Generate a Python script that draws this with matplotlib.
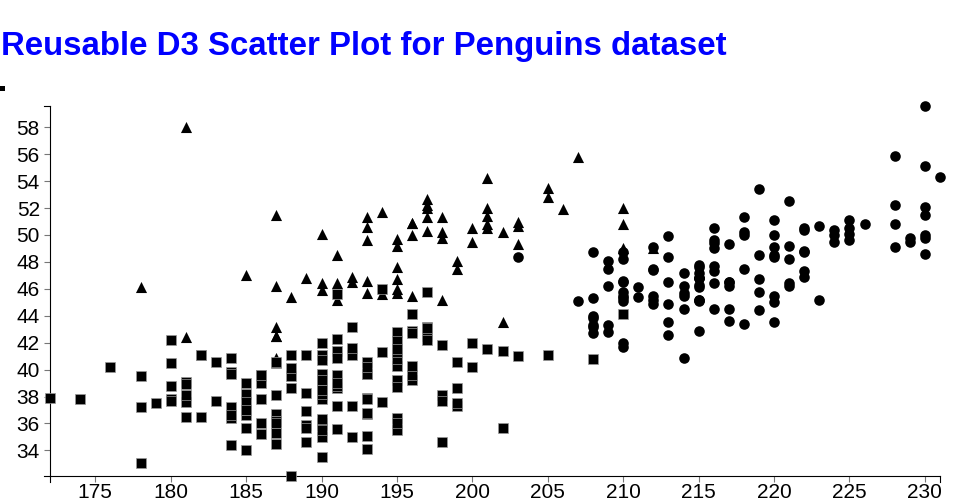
import matplotlib
matplotlib.use("Agg")
import matplotlib.pyplot as plt
from matplotlib.lines import Line2D
from matplotlib.patches import Rectangle

# ---------------- data (flipper length mm, bill length mm) ----------------
adelie_flipper = [181, 186, 195, 193, 190, 181, 195, 193, 190, 186,
                  180, 182, 191, 198, 185, 195, 197, 184, 194, 174,
                  180, 189, 185, 180, 187, 183, 187, 172, 180, 178,
                  178, 188, 184, 195, 196, 190, 180, 181, 184, 182,
                  195, 186, 196, 185, 190, 182, 179, 190, 191, 186,
                  188, 190, 200, 187, 191, 186, 193, 181, 194, 185,
                  195, 185, 192, 184, 192, 195, 188, 190, 198, 190,
                  190, 196, 197, 190, 195, 191, 184, 187, 195, 189,
                  196, 187, 193, 191, 194, 190, 189, 189, 190, 202,
                  205, 185, 186, 187, 208, 190, 196, 178, 192, 192,
                  203, 183, 190, 193, 184, 199, 190, 181, 197, 198,
                  191, 193, 197, 191, 196, 188, 199, 189, 189, 187,
                  198, 176, 202, 186, 199, 191, 195, 191, 210, 190,
                  197, 193, 199, 187, 190, 191, 200, 185, 193, 193,
                  187, 188, 190, 192, 185, 190, 184, 195, 193, 187, 201]
adelie_bill = [39.1, 39.5, 40.3, 36.7, 39.3, 38.9, 39.2, 34.1, 42.0, 37.8,
               37.8, 41.1, 38.6, 34.6, 36.6, 38.7, 42.5, 34.4, 46.0, 37.8,
               37.7, 35.9, 38.2, 38.8, 35.3, 40.6, 40.5, 37.9, 40.5, 39.5,
               37.2, 39.5, 40.9, 36.4, 39.2, 38.8, 42.2, 37.6, 39.8, 36.5,
               40.8, 36.0, 44.1, 37.0, 39.6, 41.1, 37.5, 36.0, 42.3, 39.6,
               40.1, 35.0, 42.0, 34.5, 41.4, 39.0, 40.6, 36.5, 37.6, 35.7,
               41.3, 37.6, 41.1, 36.4, 41.6, 35.5, 41.1, 35.9, 41.8, 33.5,
               39.7, 39.6, 45.8, 35.5, 42.8, 40.9, 37.2, 36.2, 42.1, 34.6,
               42.9, 36.7, 35.1, 37.3, 41.3, 36.3, 36.9, 38.3, 38.9, 35.7,
               41.1, 34.0, 39.6, 36.2, 40.8, 38.1, 40.3, 33.1, 43.2, 35.0,
               41.0, 37.7, 37.8, 37.9, 39.7, 38.6, 38.2, 38.1, 43.2, 38.1,
               45.6, 39.7, 42.2, 39.6, 42.7, 38.6, 37.3, 35.7, 41.1, 36.2,
               37.7, 40.2, 41.4, 35.2, 40.6, 38.8, 41.5, 39.0, 44.1, 38.5,
               43.1, 36.8, 37.5, 38.1, 41.1, 35.6, 40.2, 37.0, 39.7, 40.2,
               40.6, 32.1, 40.7, 37.3, 39.0, 39.2, 36.6, 36.0, 37.8, 36.0, 41.5]

chinstrap_flipper = [192, 196, 193, 188, 197, 198, 178, 197, 195, 198,
                     193, 194, 185, 201, 190, 201, 197, 181, 190, 195,
                     181, 191, 187, 193, 195, 197, 200, 200, 191, 205,
                     187, 201, 187, 203, 195, 199, 195, 210, 192, 205,
                     210, 187, 196, 196, 196, 201, 190, 212, 187, 198,
                     199, 201, 193, 203, 187, 197, 191, 203, 202, 194,
                     206, 189, 195, 207, 202, 193, 210, 198]
chinstrap_bill = [46.5, 50.0, 51.3, 45.4, 52.7, 45.2, 46.1, 51.3, 46.0, 51.3,
                  46.6, 51.7, 47.0, 52.0, 45.9, 50.5, 50.3, 58.0, 46.4, 49.2,
                  42.4, 48.5, 43.2, 50.6, 46.7, 52.0, 50.5, 49.5, 46.4, 52.8,
                  40.9, 54.2, 42.5, 51.0, 49.7, 47.5, 47.6, 52.0, 46.9, 53.5,
                  49.0, 46.2, 50.9, 45.5, 50.9, 50.8, 50.1, 49.0, 51.5, 49.8,
                  48.1, 51.4, 45.7, 50.7, 42.5, 52.2, 45.2, 49.3, 50.2, 45.6,
                  51.9, 46.8, 45.7, 55.8, 43.5, 49.6, 50.8, 50.2]

gentoo_flipper = [211, 230, 210, 218, 215, 210, 211, 219, 209, 215,
                  214, 216, 214, 213, 210, 217, 210, 221, 209, 222,
                  218, 215, 213, 215, 215, 215, 216, 215, 210, 220,
                  222, 209, 207, 230, 220, 220, 213, 219, 208, 208,
                  208, 225, 210, 216, 222, 217, 210, 225, 213, 215,
                  210, 220, 210, 225, 217, 220, 208, 220, 208, 224,
                  208, 221, 214, 231, 219, 230, 214, 229, 220, 223,
                  216, 221, 221, 217, 216, 230, 209, 220, 215, 223,
                  212, 221, 212, 224, 212, 228, 218, 218, 212, 230,
                  218, 228, 212, 224, 214, 226, 216, 222, 203, 225,
                  219, 228, 215, 228, 216, 215, 210, 219, 208, 209,
                  216, 229, 213, 230, 217, 230, 217, 222, 214, 215,
                  222, 212, 213]
gentoo_bill = [46.1, 50.0, 48.7, 50.0, 47.6, 46.5, 45.4, 46.7, 43.3, 46.8,
               40.9, 49.0, 45.5, 48.4, 45.8, 49.3, 42.0, 49.2, 46.2, 48.7,
               50.2, 45.1, 46.5, 46.3, 42.9, 46.1, 44.5, 47.8, 48.2, 50.0,
               47.3, 42.8, 45.1, 59.6, 49.1, 48.4, 42.6, 44.4, 44.0, 48.7,
               42.7, 49.6, 45.3, 49.6, 50.5, 43.6, 45.5, 50.5, 44.9, 45.2,
               46.6, 48.5, 45.1, 50.1, 46.5, 45.0, 43.8, 45.5, 43.2, 50.4,
               45.3, 46.2, 45.7, 54.3, 45.8, 49.8, 46.2, 49.5, 43.5, 50.7,
               47.7, 46.4, 48.2, 46.5, 46.4, 48.6, 47.5, 51.1, 45.2, 45.2,
               49.1, 52.5, 47.4, 50.0, 44.9, 50.8, 43.4, 51.3, 47.5, 52.1,
               47.5, 52.2, 45.5, 49.5, 44.5, 50.8, 49.4, 46.9, 48.4, 51.1,
               48.5, 55.9, 47.2, 49.1, 47.3, 46.8, 41.7, 53.4, 43.3, 48.1,
               50.5, 49.8, 43.5, 51.5, 46.2, 55.1, 44.5, 48.8, 47.2, 46.8,
               50.4, 45.2, 49.9]

x_ticks = [175, 180, 185, 190, 195, 200, 205, 210, 215, 220, 225, 230]
y_ticks = [34, 36, 38, 40, 42, 44, 46, 48, 50, 52, 54, 56, 58]
title = "Reusable D3 Scatter Plot for Penguins dataset"

plt.rcParams["font.family"] = ["Liberation Sans", "DejaVu Sans"]

# ---------------- figure ----------------
W, H = 960, 500
fig = plt.figure(figsize=(W / 100, H / 100), dpi=100)
L, R, T, B = 50, 940, 105.7, 476
ax = fig.add_axes([L / W, (H - B) / H, (R - L) / W, (B - T) / H])

all_x = adelie_flipper + chinstrap_flipper + gentoo_flipper
all_y = adelie_bill + chinstrap_bill + gentoo_bill
ax.set_xlim(min(all_x), max(all_x))
ax.set_ylim(min(all_y), max(all_y))

common = dict(c="black", clip_on=False)
ax.scatter(chinstrap_flipper, chinstrap_bill, marker="^", s=64, linewidths=0, zorder=3, **common)
ax.scatter(adelie_flipper, adelie_bill, marker="s", s=50, edgecolors="#9a9a9a",
           linewidths=0.5, zorder=4, **common)
ax.scatter(gentoo_flipper, gentoo_bill, marker="o", s=58, linewidths=0, zorder=5, **common)

for side in ("top", "right"):
    ax.spines[side].set_visible(False)
for side in ("left", "bottom"):
    ax.spines[side].set_color("black")
    ax.spines[side].set_linewidth(0.8)

ax.set_xticks(x_ticks)
ax.set_yticks(y_ticks)
ax.set_xticklabels([str(v) for v in x_ticks])
ax.set_yticklabels([str(v) for v in y_ticks])
ax.tick_params(axis="both", direction="out", length=4.3, width=0.8, color="#777777",
               labelsize=15, labelcolor="black")
ax.tick_params(axis="x", pad=1)
ax.tick_params(axis="y", pad=3)

# outer ticks at the ends of the axis domains (d3 style)
def fx(px):
    return px / W

def fy(py):
    return (H - py) / H

for (x0, y0, x1, y1) in [(L, B, L, B + 6), (R, B, R, B + 6), (L - 6, B, L, B), (L - 6, T, L, T)]:
    fig.add_artist(Line2D([fx(x0), fx(x1)], [fy(y0), fy(y1)], transform=fig.transFigure,
                          color="black", linewidth=0.8))

# small black square in the top-left corner
fig.add_artist(Rectangle((0, fy(91)), 5 / W, 5 / H, transform=fig.transFigure,
                         facecolor="black", edgecolor="none"))

fig.text(fx(1), fy(55), title, color="#0000ff", fontsize=23.8, fontweight="bold",
         ha="left", va="baseline")

fig.savefig("out.png", dpi=100)
